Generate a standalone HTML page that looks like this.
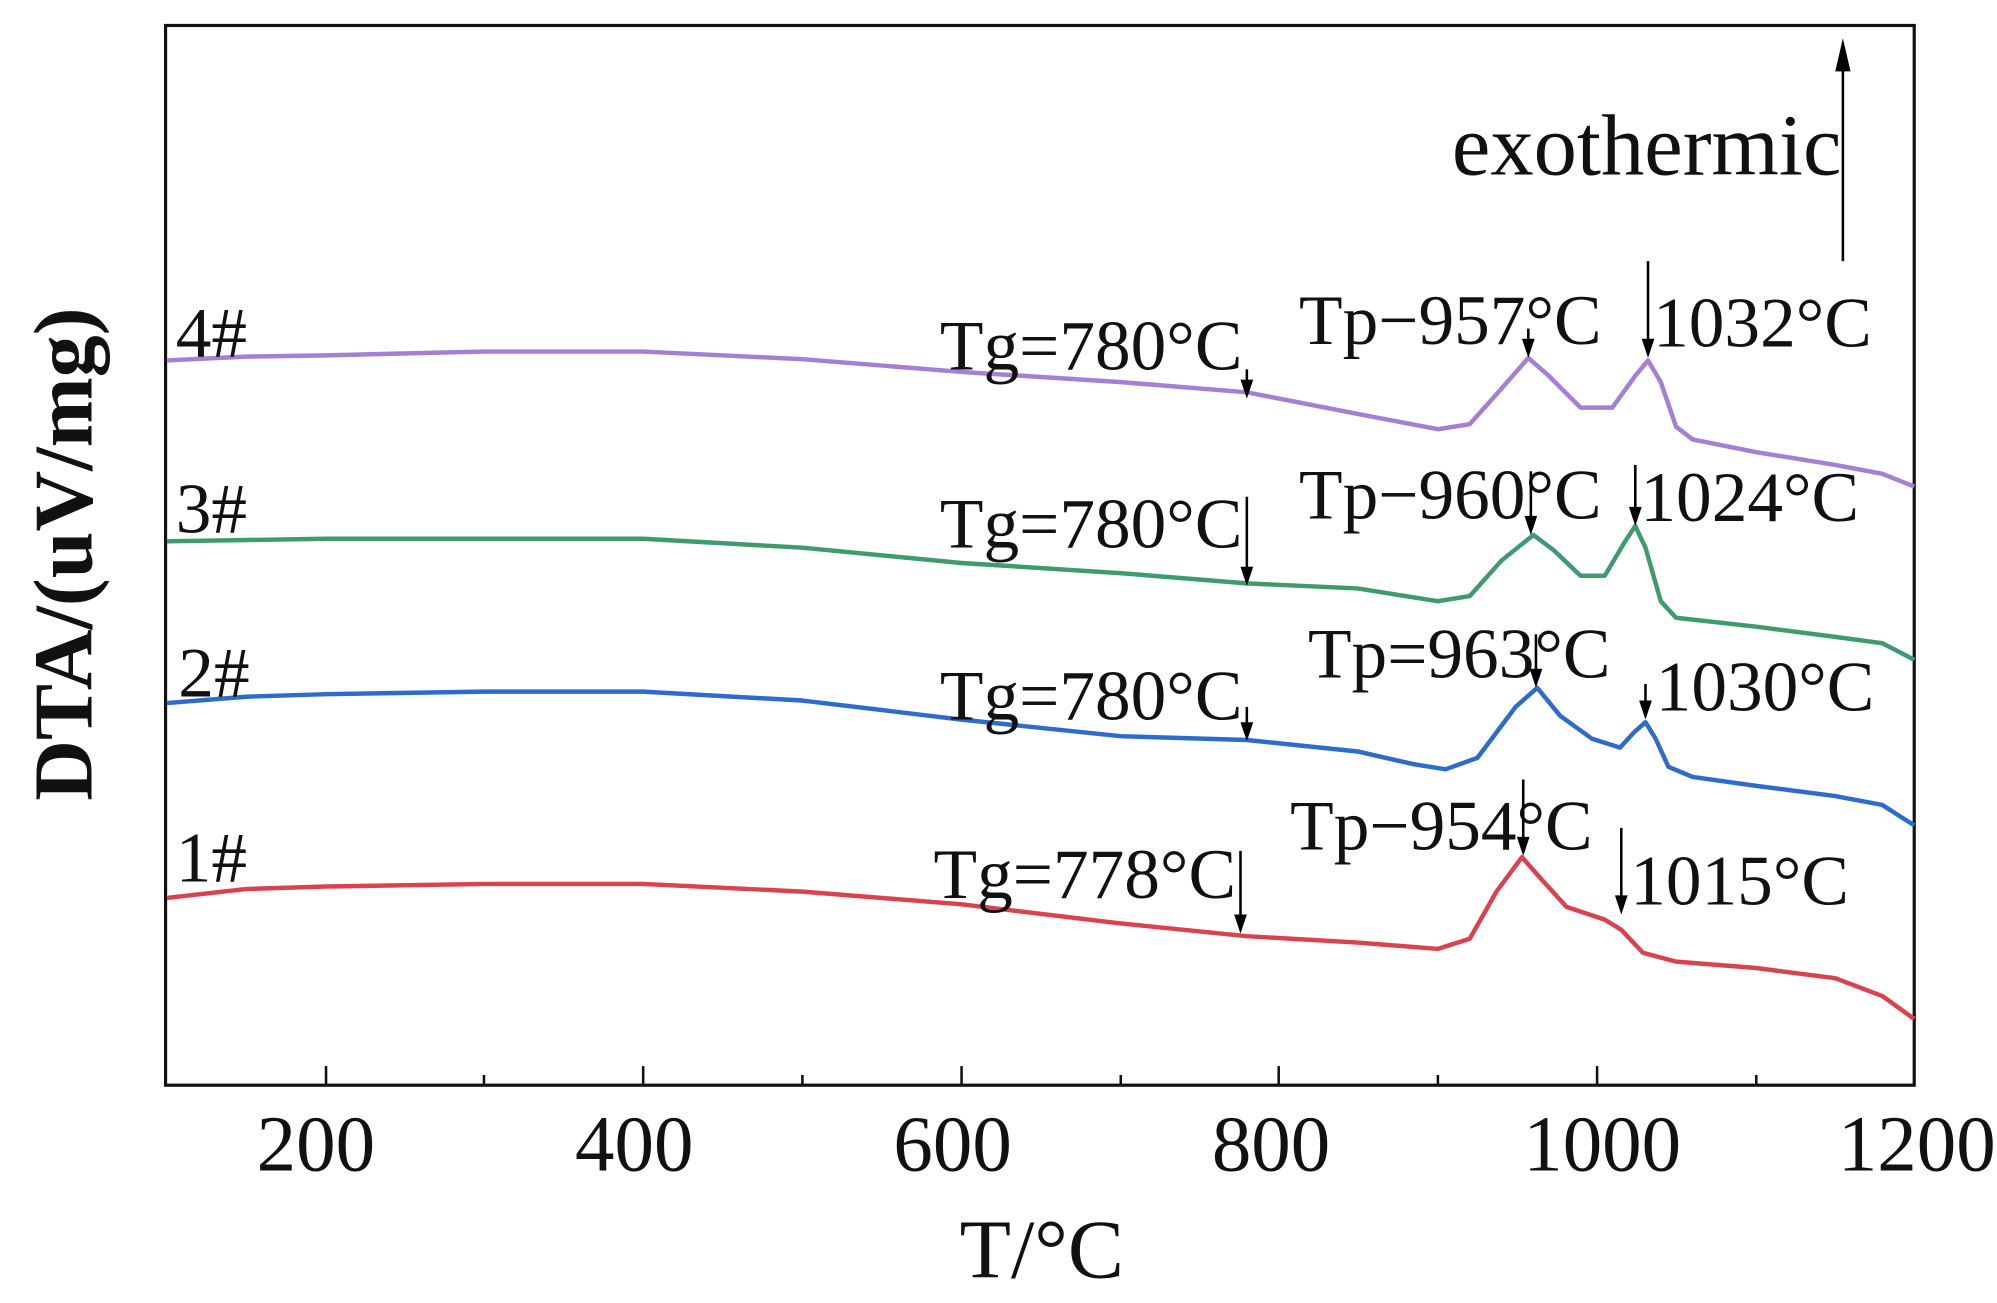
<!DOCTYPE html>
<html><head><meta charset="utf-8"><style>
html,body{margin:0;padding:0;background:#fff;}
svg{display:block;}
text{font-family:"Liberation Serif",serif;fill:#111;}
</style></head><body>
<svg width="1997" height="1303" viewBox="0 0 1568 1023" preserveAspectRatio="none" xmlns="http://www.w3.org/2000/svg">
<rect x="130" y="20" width="1373" height="832" fill="none" stroke="#111" stroke-width="2.5"/>
<g stroke="#111" stroke-width="2">
<line x1="256" y1="852" x2="256" y2="837"/><line x1="505" y1="852" x2="505" y2="837"/><line x1="755" y1="852" x2="755" y2="837"/><line x1="1004" y1="852" x2="1004" y2="837"/><line x1="1254" y1="852" x2="1254" y2="837"/>
<line x1="380" y1="852" x2="380" y2="844"/><line x1="630" y1="852" x2="630" y2="844"/><line x1="880" y1="852" x2="880" y2="844"/><line x1="1129" y1="852" x2="1129" y2="844"/><line x1="1379" y1="852" x2="1379" y2="844"/>
</g>
<g font-size="62" text-anchor="middle">
<text x="248" y="919">200</text><text x="498" y="919">400</text><text x="748" y="919">600</text><text x="998" y="919">800</text><text x="1258" y="919">1000</text><text x="1505" y="919">1200</text>
</g>
<text x="818" y="1003" font-size="66" text-anchor="middle">T/°C</text>
<text transform="translate(72,435) rotate(-90)" font-size="66" font-weight="bold" text-anchor="middle">DTA/(uV/mg)</text>

<g fill="none" stroke-width="3.5" stroke-linejoin="round">
<polyline stroke="#a57fd4" points="131,283 193,280 256,279 380,276 505,276 630,282 755,292 880,300 979,308 1066,325 1129,337 1154,333 1179,305 1200,281 1216,295 1241,320 1266,320 1284,295 1294,283 1304,300 1316,335 1329,345 1379,355 1441,365 1478,372 1503,382"/>
<polyline stroke="#3f9b6e" points="131,425 256,423 380,423 505,423 630,430 755,442 880,450 979,458 1066,462 1129,472 1154,468 1179,440 1204,420 1220,432 1241,452 1260,452 1276,425 1284,413 1292,430 1304,472 1316,485 1379,492 1441,500 1478,505 1503,518"/>
<polyline stroke="#2e6ccc" points="131,552 193,547 256,545 380,543 505,543 630,550 755,565 880,578 979,581 1066,590 1110,600 1135,604 1160,595 1190,555 1207,540 1225,562 1250,580 1272,587 1283,575 1292,567 1300,580 1310,602 1329,610 1379,617 1441,625 1478,632 1503,648"/>
<polyline stroke="#d9434f" points="131,705 193,698 256,696 380,694 505,694 630,700 755,710 880,725 979,735 1066,740 1129,745 1154,737 1175,700 1195,673 1210,690 1230,712 1260,722 1273,730 1290,748 1316,755 1379,760 1441,768 1478,782 1503,800"/>
</g>

<g font-size="56">
<text x="138" y="280">4#</text><text x="138" y="418">3#</text><text x="140" y="547">2#</text><text x="138" y="692">1#</text>
<text x="738" y="290">Tg=780°C</text><text x="738" y="430">Tg=780°C</text><text x="738" y="565">Tg=780°C</text><text x="733" y="705">Tg=778°C</text>
<text x="1020" y="270">Tp−957°C</text><text x="1020" y="407">Tp−960°C</text><text x="1027" y="532">Tp=963°C</text><text x="1013" y="667">Tp−954°C</text>
<text x="1298" y="272">1032°C</text><text x="1288" y="409">1024°C</text><text x="1300" y="558">1030°C</text><text x="1280" y="710">1015°C</text>
<text x="1140" y="137" font-size="68">exothermic</text>
</g>

<g stroke="#000" stroke-width="2">
<line x1="979" y1="290" x2="979" y2="305"/><line x1="1200" y1="258" x2="1200" y2="270"/><line x1="1294" y1="205" x2="1294" y2="270"/>
<line x1="979" y1="390" x2="979" y2="450"/><line x1="1202" y1="370" x2="1202" y2="410"/><line x1="1284" y1="365" x2="1284" y2="403"/>
<line x1="979" y1="555" x2="979" y2="572"/><line x1="1206" y1="498" x2="1206" y2="530"/><line x1="1292" y1="537" x2="1292" y2="555"/>
<line x1="974" y1="668" x2="974" y2="723"/><line x1="1196" y1="612" x2="1196" y2="662"/><line x1="1273" y1="650" x2="1273" y2="708"/>
</g>
<g fill="#000">
<path d="M974,298 L984,298 L979,313 z"/><path d="M1195,266 L1205,266 L1200,281 z"/><path d="M1289,266 L1299,266 L1294,281 z"/>
<path d="M974,445 L984,445 L979,460 z"/><path d="M1197,405 L1207,405 L1202,420 z"/><path d="M1279,398 L1289,398 L1284,413 z"/>
<path d="M974,567 L984,567 L979,582 z"/><path d="M1201,525 L1211,525 L1206,540 z"/><path d="M1287,550 L1297,550 L1292,565 z"/>
<path d="M969,718 L979,718 L974,733 z"/><path d="M1191,657 L1201,657 L1196,672 z"/><path d="M1268,703 L1278,703 L1273,718 z"/>
</g>
<line x1="1447" y1="205" x2="1447" y2="50" stroke="#000" stroke-width="2"/>
<path d="M1441,56 L1447,30 L1453,56 z" fill="#000"/>
</svg>
</body></html>
